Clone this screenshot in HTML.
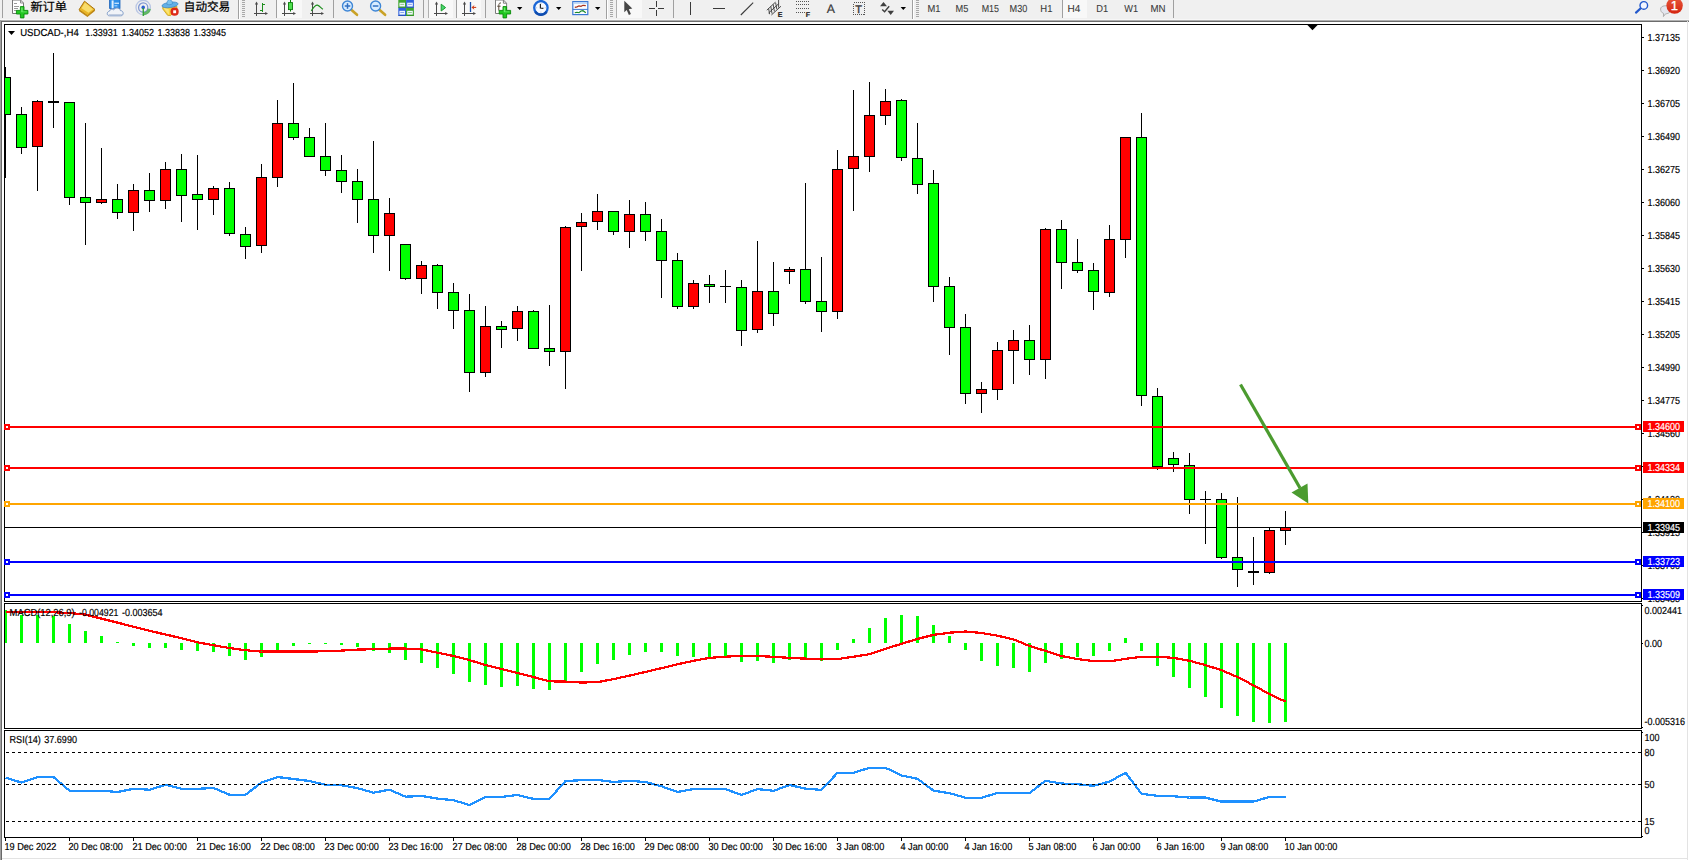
<!DOCTYPE html><html><head><meta charset="utf-8"><title>USDCAD-,H4</title><style>
html,body{margin:0;padding:0;background:#fff;}body{width:1689px;height:860px;overflow:hidden;position:relative;}
svg{position:absolute;left:0;top:0;display:block;}
text{font-family:"Liberation Sans","Noto Sans CJK SC",sans-serif;font-size:10.2px;text-rendering:geometricPrecision;fill:#000;stroke:#000;stroke-width:.18px;}
.cj{font-size:12px;stroke-width:.22px;}
.tf{fill:#3a3a3a;stroke:#3a3a3a;stroke-width:.08px;}
.w{fill:#fff;stroke:#fff;}
</style></head><body>
<svg width="1689" height="860" viewBox="0 0 1689 860">
<g shape-rendering="crispEdges">
<rect x="0" y="0" width="1689" height="860" fill="#fff" />
<rect x="0" y="0" width="1689" height="20" fill="#f0f0f0" />
<rect x="0" y="19" width="1689" height="1" fill="#f7f7f7" />
<rect x="0" y="20" width="1689" height="1" fill="#b0b0b0" />
<rect x="0" y="21" width="1689" height="1" fill="#6c6c6c" />
<rect x="0" y="20" width="1" height="840" fill="#a0a0a0" />
<rect x="1" y="21" width="1" height="839" fill="#696969" />
<rect x="1687" y="21" width="1" height="839" fill="#e3e3e3" />
<rect x="2" y="858" width="1686" height="1" fill="#e3e3e3" />
<rect x="4.5" y="24.5" width="1637" height="577" fill="none" stroke="#000" stroke-width="1"/>
<rect x="4.5" y="603.5" width="1637" height="125" fill="none" stroke="#000" stroke-width="1"/>
<rect x="4.5" y="730.5" width="1637" height="107" fill="none" stroke="#000" stroke-width="1"/>
</g>
<defs><clipPath id="cm"><rect x="5" y="25" width="1636" height="576"/></clipPath><clipPath id="c2"><rect x="5" y="604" width="1636" height="124"/></clipPath><clipPath id="c3"><rect x="5" y="731" width="1636" height="106"/></clipPath></defs>
<g shape-rendering="crispEdges" clip-path="url(#cm)">
<rect x="5" y="527" width="1636" height="1" fill="#000" />
<rect x="5" y="67" width="1" height="111" fill="#000" />
<rect x="0" y="77" width="11" height="38" fill="#000" />
<rect x="1" y="78" width="9" height="36" fill="#00ff00" />
<rect x="21" y="107" width="1" height="47" fill="#000" />
<rect x="16" y="114" width="11" height="34" fill="#000" />
<rect x="17" y="115" width="9" height="32" fill="#00ff00" />
<rect x="37" y="100" width="1" height="91" fill="#000" />
<rect x="32" y="101" width="11" height="46" fill="#000" />
<rect x="33" y="102" width="9" height="44" fill="#ff0000" />
<rect x="53" y="53" width="1" height="75" fill="#000" />
<rect x="48" y="101" width="11" height="2" fill="#000" />
<rect x="69" y="102" width="1" height="103" fill="#000" />
<rect x="64" y="102" width="11" height="96" fill="#000" />
<rect x="65" y="103" width="9" height="94" fill="#00ff00" />
<rect x="85" y="123" width="1" height="122" fill="#000" />
<rect x="80" y="197" width="11" height="6" fill="#000" />
<rect x="81" y="198" width="9" height="4" fill="#00ff00" />
<rect x="101" y="148" width="1" height="56" fill="#000" />
<rect x="96" y="199" width="11" height="4" fill="#000" />
<rect x="97" y="200" width="9" height="2" fill="#ff0000" />
<rect x="117" y="184" width="1" height="35" fill="#000" />
<rect x="112" y="199" width="11" height="14" fill="#000" />
<rect x="113" y="200" width="9" height="12" fill="#00ff00" />
<rect x="133" y="184" width="1" height="47" fill="#000" />
<rect x="128" y="190" width="11" height="23" fill="#000" />
<rect x="129" y="191" width="9" height="21" fill="#ff0000" />
<rect x="149" y="173" width="1" height="39" fill="#000" />
<rect x="144" y="190" width="11" height="11" fill="#000" />
<rect x="145" y="191" width="9" height="9" fill="#00ff00" />
<rect x="165" y="162" width="1" height="47" fill="#000" />
<rect x="160" y="169" width="11" height="32" fill="#000" />
<rect x="161" y="170" width="9" height="30" fill="#ff0000" />
<rect x="181" y="154" width="1" height="68" fill="#000" />
<rect x="176" y="169" width="11" height="27" fill="#000" />
<rect x="177" y="170" width="9" height="25" fill="#00ff00" />
<rect x="197" y="155" width="1" height="75" fill="#000" />
<rect x="192" y="194" width="11" height="6" fill="#000" />
<rect x="193" y="195" width="9" height="4" fill="#00ff00" />
<rect x="213" y="186" width="1" height="29" fill="#000" />
<rect x="208" y="188" width="11" height="12" fill="#000" />
<rect x="209" y="189" width="9" height="10" fill="#ff0000" />
<rect x="229" y="182" width="1" height="54" fill="#000" />
<rect x="224" y="188" width="11" height="46" fill="#000" />
<rect x="225" y="189" width="9" height="44" fill="#00ff00" />
<rect x="245" y="227" width="1" height="32" fill="#000" />
<rect x="240" y="234" width="11" height="13" fill="#000" />
<rect x="241" y="235" width="9" height="11" fill="#00ff00" />
<rect x="261" y="164" width="1" height="89" fill="#000" />
<rect x="256" y="177" width="11" height="69" fill="#000" />
<rect x="257" y="178" width="9" height="67" fill="#ff0000" />
<rect x="277" y="100" width="1" height="87" fill="#000" />
<rect x="272" y="123" width="11" height="55" fill="#000" />
<rect x="273" y="124" width="9" height="53" fill="#ff0000" />
<rect x="293" y="83" width="1" height="57" fill="#000" />
<rect x="288" y="123" width="11" height="15" fill="#000" />
<rect x="289" y="124" width="9" height="13" fill="#00ff00" />
<rect x="309" y="128" width="1" height="29" fill="#000" />
<rect x="304" y="137" width="11" height="20" fill="#000" />
<rect x="305" y="138" width="9" height="18" fill="#00ff00" />
<rect x="325" y="123" width="1" height="53" fill="#000" />
<rect x="320" y="156" width="11" height="15" fill="#000" />
<rect x="321" y="157" width="9" height="13" fill="#00ff00" />
<rect x="341" y="155" width="1" height="38" fill="#000" />
<rect x="336" y="170" width="11" height="12" fill="#000" />
<rect x="337" y="171" width="9" height="10" fill="#00ff00" />
<rect x="357" y="169" width="1" height="54" fill="#000" />
<rect x="352" y="181" width="11" height="19" fill="#000" />
<rect x="353" y="182" width="9" height="17" fill="#00ff00" />
<rect x="373" y="141" width="1" height="112" fill="#000" />
<rect x="368" y="199" width="11" height="37" fill="#000" />
<rect x="369" y="200" width="9" height="35" fill="#00ff00" />
<rect x="389" y="198" width="1" height="73" fill="#000" />
<rect x="384" y="213" width="11" height="23" fill="#000" />
<rect x="385" y="214" width="9" height="21" fill="#ff0000" />
<rect x="405" y="244" width="1" height="36" fill="#000" />
<rect x="400" y="244" width="11" height="35" fill="#000" />
<rect x="401" y="245" width="9" height="33" fill="#00ff00" />
<rect x="421" y="261" width="1" height="33" fill="#000" />
<rect x="416" y="265" width="11" height="14" fill="#000" />
<rect x="417" y="266" width="9" height="12" fill="#ff0000" />
<rect x="437" y="264" width="1" height="45" fill="#000" />
<rect x="432" y="265" width="11" height="28" fill="#000" />
<rect x="433" y="266" width="9" height="26" fill="#00ff00" />
<rect x="453" y="283" width="1" height="46" fill="#000" />
<rect x="448" y="292" width="11" height="19" fill="#000" />
<rect x="449" y="293" width="9" height="17" fill="#00ff00" />
<rect x="469" y="294" width="1" height="98" fill="#000" />
<rect x="464" y="310" width="11" height="63" fill="#000" />
<rect x="465" y="311" width="9" height="61" fill="#00ff00" />
<rect x="485" y="306" width="1" height="71" fill="#000" />
<rect x="480" y="326" width="11" height="47" fill="#000" />
<rect x="481" y="327" width="9" height="45" fill="#ff0000" />
<rect x="501" y="321" width="1" height="27" fill="#000" />
<rect x="496" y="326" width="11" height="4" fill="#000" />
<rect x="497" y="327" width="9" height="2" fill="#00ff00" />
<rect x="517" y="306" width="1" height="35" fill="#000" />
<rect x="512" y="311" width="11" height="18" fill="#000" />
<rect x="513" y="312" width="9" height="16" fill="#ff0000" />
<rect x="533" y="310" width="1" height="39" fill="#000" />
<rect x="528" y="311" width="11" height="38" fill="#000" />
<rect x="529" y="312" width="9" height="36" fill="#00ff00" />
<rect x="549" y="305" width="1" height="61" fill="#000" />
<rect x="544" y="348" width="11" height="4" fill="#000" />
<rect x="545" y="349" width="9" height="2" fill="#00ff00" />
<rect x="565" y="226" width="1" height="163" fill="#000" />
<rect x="560" y="227" width="11" height="125" fill="#000" />
<rect x="561" y="228" width="9" height="123" fill="#ff0000" />
<rect x="581" y="213" width="1" height="58" fill="#000" />
<rect x="576" y="222" width="11" height="5" fill="#000" />
<rect x="577" y="223" width="9" height="3" fill="#ff0000" />
<rect x="597" y="194" width="1" height="36" fill="#000" />
<rect x="592" y="211" width="11" height="11" fill="#000" />
<rect x="593" y="212" width="9" height="9" fill="#ff0000" />
<rect x="613" y="211" width="1" height="24" fill="#000" />
<rect x="608" y="211" width="11" height="21" fill="#000" />
<rect x="609" y="212" width="9" height="19" fill="#00ff00" />
<rect x="629" y="200" width="1" height="48" fill="#000" />
<rect x="624" y="214" width="11" height="18" fill="#000" />
<rect x="625" y="215" width="9" height="16" fill="#ff0000" />
<rect x="645" y="202" width="1" height="39" fill="#000" />
<rect x="640" y="214" width="11" height="18" fill="#000" />
<rect x="641" y="215" width="9" height="16" fill="#00ff00" />
<rect x="661" y="219" width="1" height="79" fill="#000" />
<rect x="656" y="231" width="11" height="30" fill="#000" />
<rect x="657" y="232" width="9" height="28" fill="#00ff00" />
<rect x="677" y="253" width="1" height="56" fill="#000" />
<rect x="672" y="260" width="11" height="47" fill="#000" />
<rect x="673" y="261" width="9" height="45" fill="#00ff00" />
<rect x="693" y="280" width="1" height="29" fill="#000" />
<rect x="688" y="283" width="11" height="24" fill="#000" />
<rect x="689" y="284" width="9" height="22" fill="#ff0000" />
<rect x="709" y="275" width="1" height="28" fill="#000" />
<rect x="704" y="284" width="11" height="3" fill="#000" />
<rect x="705" y="285" width="9" height="1" fill="#00ff00" />
<rect x="725" y="270" width="1" height="33" fill="#000" />
<rect x="720" y="286" width="11" height="1" fill="#000" />
<rect x="741" y="280" width="1" height="66" fill="#000" />
<rect x="736" y="287" width="11" height="44" fill="#000" />
<rect x="737" y="288" width="9" height="42" fill="#00ff00" />
<rect x="757" y="241" width="1" height="92" fill="#000" />
<rect x="752" y="291" width="11" height="39" fill="#000" />
<rect x="753" y="292" width="9" height="37" fill="#ff0000" />
<rect x="773" y="262" width="1" height="64" fill="#000" />
<rect x="768" y="291" width="11" height="23" fill="#000" />
<rect x="769" y="292" width="9" height="21" fill="#00ff00" />
<rect x="789" y="267" width="1" height="17" fill="#000" />
<rect x="784" y="269" width="11" height="3" fill="#000" />
<rect x="785" y="270" width="9" height="1" fill="#ff0000" />
<rect x="805" y="183" width="1" height="121" fill="#000" />
<rect x="800" y="269" width="11" height="33" fill="#000" />
<rect x="801" y="270" width="9" height="31" fill="#00ff00" />
<rect x="821" y="257" width="1" height="75" fill="#000" />
<rect x="816" y="301" width="11" height="11" fill="#000" />
<rect x="817" y="302" width="9" height="9" fill="#00ff00" />
<rect x="837" y="150" width="1" height="169" fill="#000" />
<rect x="832" y="169" width="11" height="143" fill="#000" />
<rect x="833" y="170" width="9" height="141" fill="#ff0000" />
<rect x="853" y="90" width="1" height="121" fill="#000" />
<rect x="848" y="156" width="11" height="13" fill="#000" />
<rect x="849" y="157" width="9" height="11" fill="#ff0000" />
<rect x="869" y="82" width="1" height="90" fill="#000" />
<rect x="864" y="115" width="11" height="42" fill="#000" />
<rect x="865" y="116" width="9" height="40" fill="#ff0000" />
<rect x="885" y="89" width="1" height="36" fill="#000" />
<rect x="880" y="101" width="11" height="15" fill="#000" />
<rect x="881" y="102" width="9" height="13" fill="#ff0000" />
<rect x="901" y="99" width="1" height="62" fill="#000" />
<rect x="896" y="100" width="11" height="58" fill="#000" />
<rect x="897" y="101" width="9" height="56" fill="#00ff00" />
<rect x="917" y="123" width="1" height="71" fill="#000" />
<rect x="912" y="158" width="11" height="27" fill="#000" />
<rect x="913" y="159" width="9" height="25" fill="#00ff00" />
<rect x="933" y="170" width="1" height="132" fill="#000" />
<rect x="928" y="183" width="11" height="104" fill="#000" />
<rect x="929" y="184" width="9" height="102" fill="#00ff00" />
<rect x="949" y="277" width="1" height="78" fill="#000" />
<rect x="944" y="286" width="11" height="42" fill="#000" />
<rect x="945" y="287" width="9" height="40" fill="#00ff00" />
<rect x="965" y="314" width="1" height="90" fill="#000" />
<rect x="960" y="327" width="11" height="67" fill="#000" />
<rect x="961" y="328" width="9" height="65" fill="#00ff00" />
<rect x="981" y="382" width="1" height="31" fill="#000" />
<rect x="976" y="389" width="11" height="5" fill="#000" />
<rect x="977" y="390" width="9" height="3" fill="#ff0000" />
<rect x="997" y="342" width="1" height="58" fill="#000" />
<rect x="992" y="350" width="11" height="40" fill="#000" />
<rect x="993" y="351" width="9" height="38" fill="#ff0000" />
<rect x="1013" y="330" width="1" height="54" fill="#000" />
<rect x="1008" y="340" width="11" height="11" fill="#000" />
<rect x="1009" y="341" width="9" height="9" fill="#ff0000" />
<rect x="1029" y="325" width="1" height="50" fill="#000" />
<rect x="1024" y="340" width="11" height="20" fill="#000" />
<rect x="1025" y="341" width="9" height="18" fill="#00ff00" />
<rect x="1045" y="228" width="1" height="151" fill="#000" />
<rect x="1040" y="229" width="11" height="131" fill="#000" />
<rect x="1041" y="230" width="9" height="129" fill="#ff0000" />
<rect x="1061" y="220" width="1" height="69" fill="#000" />
<rect x="1056" y="229" width="11" height="34" fill="#000" />
<rect x="1057" y="230" width="9" height="32" fill="#00ff00" />
<rect x="1077" y="239" width="1" height="34" fill="#000" />
<rect x="1072" y="262" width="11" height="9" fill="#000" />
<rect x="1073" y="263" width="9" height="7" fill="#00ff00" />
<rect x="1093" y="263" width="1" height="47" fill="#000" />
<rect x="1088" y="270" width="11" height="22" fill="#000" />
<rect x="1089" y="271" width="9" height="20" fill="#00ff00" />
<rect x="1109" y="225" width="1" height="72" fill="#000" />
<rect x="1104" y="239" width="11" height="54" fill="#000" />
<rect x="1105" y="240" width="9" height="52" fill="#ff0000" />
<rect x="1125" y="137" width="1" height="121" fill="#000" />
<rect x="1120" y="137" width="11" height="103" fill="#000" />
<rect x="1121" y="138" width="9" height="101" fill="#ff0000" />
<rect x="1141" y="113" width="1" height="293" fill="#000" />
<rect x="1136" y="137" width="11" height="259" fill="#000" />
<rect x="1137" y="138" width="9" height="257" fill="#00ff00" />
<rect x="1157" y="388" width="1" height="82" fill="#000" />
<rect x="1152" y="396" width="11" height="71" fill="#000" />
<rect x="1153" y="397" width="9" height="69" fill="#00ff00" />
<rect x="1173" y="452" width="1" height="20" fill="#000" />
<rect x="1168" y="458" width="11" height="7" fill="#000" />
<rect x="1169" y="459" width="9" height="5" fill="#00ff00" />
<rect x="1189" y="453" width="1" height="61" fill="#000" />
<rect x="1184" y="465" width="11" height="35" fill="#000" />
<rect x="1185" y="466" width="9" height="33" fill="#00ff00" />
<rect x="1205" y="491" width="1" height="53" fill="#000" />
<rect x="1200" y="499" width="11" height="1" fill="#000" />
<rect x="1221" y="493" width="1" height="66" fill="#000" />
<rect x="1216" y="499" width="11" height="59" fill="#000" />
<rect x="1217" y="500" width="9" height="57" fill="#00ff00" />
<rect x="1237" y="497" width="1" height="90" fill="#000" />
<rect x="1232" y="557" width="11" height="13" fill="#000" />
<rect x="1233" y="558" width="9" height="11" fill="#00ff00" />
<rect x="1253" y="537" width="1" height="48" fill="#000" />
<rect x="1248" y="571" width="11" height="2" fill="#000" />
<rect x="1269" y="527" width="1" height="47" fill="#000" />
<rect x="1264" y="530" width="11" height="43" fill="#000" />
<rect x="1265" y="531" width="9" height="41" fill="#ff0000" />
<rect x="1285" y="511" width="1" height="34" fill="#000" />
<rect x="1280" y="527" width="11" height="4" fill="#000" />
<rect x="1281" y="528" width="9" height="2" fill="#ff0000" />
</g><g shape-rendering="crispEdges">
<rect x="5" y="426" width="1636" height="2" fill="#ff0000" />
<rect x="4" y="424" width="6" height="6" fill="#ff0000" />
<rect x="6" y="426" width="2" height="2" fill="#fff" />
<rect x="1635" y="424" width="6" height="6" fill="#ff0000" />
<rect x="1637" y="426" width="2" height="2" fill="#fff" />
<rect x="5" y="467" width="1636" height="2" fill="#ff0000" />
<rect x="4" y="465" width="6" height="6" fill="#ff0000" />
<rect x="6" y="467" width="2" height="2" fill="#fff" />
<rect x="1635" y="465" width="6" height="6" fill="#ff0000" />
<rect x="1637" y="467" width="2" height="2" fill="#fff" />
<rect x="5" y="503" width="1636" height="2" fill="#ffa500" />
<rect x="4" y="501" width="6" height="6" fill="#ffa500" />
<rect x="6" y="503" width="2" height="2" fill="#fff" />
<rect x="1635" y="501" width="6" height="6" fill="#ffa500" />
<rect x="1637" y="503" width="2" height="2" fill="#fff" />
<rect x="5" y="561" width="1636" height="2" fill="#0000ff" />
<rect x="4" y="559" width="6" height="6" fill="#0000ff" />
<rect x="6" y="561" width="2" height="2" fill="#fff" />
<rect x="1635" y="559" width="6" height="6" fill="#0000ff" />
<rect x="1637" y="561" width="2" height="2" fill="#fff" />
<rect x="5" y="594" width="1636" height="2" fill="#0000ff" />
<rect x="4" y="592" width="6" height="6" fill="#0000ff" />
<rect x="6" y="594" width="2" height="2" fill="#fff" />
<rect x="1635" y="592" width="6" height="6" fill="#0000ff" />
<rect x="1637" y="594" width="2" height="2" fill="#fff" />
</g>
<g shape-rendering="geometricPrecision"><line x1="1240.5" y1="384.5" x2="1300" y2="488" stroke="#4b9b2f" stroke-width="3.2"/><polygon points="1308.3,503.5 1291.5,492.5 1307.5,483.5" fill="#4b9b2f"/></g>
<g shape-rendering="crispEdges">
<rect x="1642" y="37" width="2" height="1" fill="#000" />
<rect x="1642" y="70" width="2" height="1" fill="#000" />
<rect x="1642" y="103" width="2" height="1" fill="#000" />
<rect x="1642" y="136" width="2" height="1" fill="#000" />
<rect x="1642" y="169" width="2" height="1" fill="#000" />
<rect x="1642" y="202" width="2" height="1" fill="#000" />
<rect x="1642" y="235" width="2" height="1" fill="#000" />
<rect x="1642" y="268" width="2" height="1" fill="#000" />
<rect x="1642" y="301" width="2" height="1" fill="#000" />
<rect x="1642" y="334" width="2" height="1" fill="#000" />
<rect x="1642" y="367" width="2" height="1" fill="#000" />
<rect x="1642" y="400" width="2" height="1" fill="#000" />
<rect x="1642" y="433" width="2" height="1" fill="#000" />
<rect x="1642" y="466" width="2" height="1" fill="#000" />
<rect x="1642" y="499" width="2" height="1" fill="#000" />
<rect x="1642" y="532" width="2" height="1" fill="#000" />
<rect x="1642" y="565" width="2" height="1" fill="#000" />
<rect x="1642" y="598" width="2" height="1" fill="#000" />
</g>
<text transform="translate(1647.5 40.6) scale(0.8824 1)">1.37135</text>
<text transform="translate(1647.5 73.6) scale(0.8824 1)">1.36920</text>
<text transform="translate(1647.5 106.6) scale(0.8824 1)">1.36705</text>
<text transform="translate(1647.5 139.6) scale(0.8824 1)">1.36490</text>
<text transform="translate(1647.5 172.6) scale(0.8824 1)">1.36275</text>
<text transform="translate(1647.5 205.6) scale(0.8824 1)">1.36060</text>
<text transform="translate(1647.5 238.6) scale(0.8824 1)">1.35845</text>
<text transform="translate(1647.5 271.6) scale(0.8824 1)">1.35630</text>
<text transform="translate(1647.5 304.6) scale(0.8824 1)">1.35415</text>
<text transform="translate(1647.5 337.6) scale(0.8824 1)">1.35205</text>
<text transform="translate(1647.5 370.6) scale(0.8824 1)">1.34990</text>
<text transform="translate(1647.5 403.6) scale(0.8824 1)">1.34775</text>
<text transform="translate(1647.5 436.6) scale(0.8824 1)">1.34560</text>
<text transform="translate(1647.5 469.6) scale(0.8824 1)">1.34345</text>
<text transform="translate(1647.5 502.6) scale(0.8824 1)">1.34130</text>
<text transform="translate(1647.5 535.6) scale(0.8824 1)">1.33915</text>
<text transform="translate(1647.5 568.6) scale(0.8824 1)">1.33700</text>
<text transform="translate(1647.5 601.6) scale(0.8824 1)">1.33485</text>
<g shape-rendering="crispEdges">
<rect x="1643" y="421" width="41" height="11" fill="#ff0000" />
<rect x="1643" y="462" width="41" height="11" fill="#ff0000" />
<rect x="1643" y="498" width="41" height="11" fill="#ffa500" />
<rect x="1643" y="556" width="41" height="11" fill="#0000ff" />
<rect x="1643" y="589" width="41" height="11" fill="#0000ff" />
<rect x="1643" y="522" width="41" height="11" fill="#000" />
</g>
<text class="w" transform="translate(1647.5 429.6) scale(0.8824 1)">1.34600</text>
<text class="w" transform="translate(1647.5 470.6) scale(0.8824 1)">1.34334</text>
<text class="w" transform="translate(1647.5 506.6) scale(0.8824 1)">1.34100</text>
<text class="w" transform="translate(1647.5 564.6) scale(0.8824 1)">1.33723</text>
<text class="w" transform="translate(1647.5 597.6) scale(0.8824 1)">1.33509</text>
<text class="w" transform="translate(1647.5 530.6) scale(0.8824 1)">1.33945</text>
<polygon points="8,31 15,31 11.5,35" fill="#000"/>
<text transform="translate(20.2 36) scale(0.8824 1)" textLength="66.30" lengthAdjust="spacingAndGlyphs">USDCAD-,H4</text>
<text transform="translate(85.3 36) scale(0.8824 1)">1.33931</text>
<text transform="translate(121.4 36) scale(0.8824 1)">1.34052</text>
<text transform="translate(157.5 36) scale(0.8824 1)">1.33838</text>
<text transform="translate(193.6 36) scale(0.8824 1)">1.33945</text>
<g shape-rendering="crispEdges" clip-path="url(#c2)">
<rect x="4" y="610" width="3" height="33" fill="#00ff00" />
<rect x="20" y="615" width="3" height="28" fill="#00ff00" />
<rect x="36" y="615" width="3" height="28" fill="#00ff00" />
<rect x="52" y="616" width="3" height="27" fill="#00ff00" />
<rect x="68" y="624" width="3" height="19" fill="#00ff00" />
<rect x="84" y="631" width="3" height="12" fill="#00ff00" />
<rect x="100" y="636" width="3" height="7" fill="#00ff00" />
<rect x="116" y="642" width="3" height="1" fill="#00ff00" />
<rect x="132" y="643" width="3" height="3" fill="#00ff00" />
<rect x="148" y="643" width="3" height="5" fill="#00ff00" />
<rect x="164" y="643" width="3" height="5" fill="#00ff00" />
<rect x="180" y="643" width="3" height="7" fill="#00ff00" />
<rect x="196" y="643" width="3" height="8" fill="#00ff00" />
<rect x="212" y="643" width="3" height="9" fill="#00ff00" />
<rect x="228" y="643" width="3" height="13" fill="#00ff00" />
<rect x="244" y="643" width="3" height="17" fill="#00ff00" />
<rect x="260" y="643" width="3" height="14" fill="#00ff00" />
<rect x="276" y="643" width="3" height="7" fill="#00ff00" />
<rect x="292" y="643" width="3" height="3" fill="#00ff00" />
<rect x="308" y="643" width="3" height="1" fill="#00ff00" />
<rect x="324" y="643" width="3" height="1" fill="#00ff00" />
<rect x="340" y="643" width="3" height="2" fill="#00ff00" />
<rect x="356" y="643" width="3" height="4" fill="#00ff00" />
<rect x="372" y="643" width="3" height="8" fill="#00ff00" />
<rect x="388" y="643" width="3" height="10" fill="#00ff00" />
<rect x="404" y="643" width="3" height="17" fill="#00ff00" />
<rect x="420" y="643" width="3" height="20" fill="#00ff00" />
<rect x="436" y="643" width="3" height="25" fill="#00ff00" />
<rect x="452" y="643" width="3" height="31" fill="#00ff00" />
<rect x="468" y="643" width="3" height="39" fill="#00ff00" />
<rect x="484" y="643" width="3" height="42" fill="#00ff00" />
<rect x="500" y="643" width="3" height="44" fill="#00ff00" />
<rect x="516" y="643" width="3" height="43" fill="#00ff00" />
<rect x="532" y="643" width="3" height="46" fill="#00ff00" />
<rect x="548" y="643" width="3" height="47" fill="#00ff00" />
<rect x="564" y="643" width="3" height="38" fill="#00ff00" />
<rect x="580" y="643" width="3" height="29" fill="#00ff00" />
<rect x="596" y="643" width="3" height="21" fill="#00ff00" />
<rect x="612" y="643" width="3" height="17" fill="#00ff00" />
<rect x="628" y="643" width="3" height="12" fill="#00ff00" />
<rect x="644" y="643" width="3" height="9" fill="#00ff00" />
<rect x="660" y="643" width="3" height="9" fill="#00ff00" />
<rect x="676" y="643" width="3" height="13" fill="#00ff00" />
<rect x="692" y="643" width="3" height="14" fill="#00ff00" />
<rect x="708" y="643" width="3" height="14" fill="#00ff00" />
<rect x="724" y="643" width="3" height="14" fill="#00ff00" />
<rect x="740" y="643" width="3" height="19" fill="#00ff00" />
<rect x="756" y="643" width="3" height="18" fill="#00ff00" />
<rect x="772" y="643" width="3" height="20" fill="#00ff00" />
<rect x="788" y="643" width="3" height="17" fill="#00ff00" />
<rect x="804" y="643" width="3" height="17" fill="#00ff00" />
<rect x="820" y="643" width="3" height="18" fill="#00ff00" />
<rect x="836" y="643" width="3" height="7" fill="#00ff00" />
<rect x="852" y="639" width="3" height="4" fill="#00ff00" />
<rect x="868" y="628" width="3" height="15" fill="#00ff00" />
<rect x="884" y="618" width="3" height="25" fill="#00ff00" />
<rect x="900" y="615" width="3" height="28" fill="#00ff00" />
<rect x="916" y="616" width="3" height="27" fill="#00ff00" />
<rect x="932" y="625" width="3" height="18" fill="#00ff00" />
<rect x="948" y="636" width="3" height="7" fill="#00ff00" />
<rect x="964" y="643" width="3" height="7" fill="#00ff00" />
<rect x="980" y="643" width="3" height="18" fill="#00ff00" />
<rect x="996" y="643" width="3" height="23" fill="#00ff00" />
<rect x="1012" y="643" width="3" height="25" fill="#00ff00" />
<rect x="1028" y="643" width="3" height="29" fill="#00ff00" />
<rect x="1044" y="643" width="3" height="20" fill="#00ff00" />
<rect x="1060" y="643" width="3" height="16" fill="#00ff00" />
<rect x="1076" y="643" width="3" height="14" fill="#00ff00" />
<rect x="1092" y="643" width="3" height="13" fill="#00ff00" />
<rect x="1108" y="643" width="3" height="8" fill="#00ff00" />
<rect x="1124" y="638" width="3" height="5" fill="#00ff00" />
<rect x="1140" y="643" width="3" height="8" fill="#00ff00" />
<rect x="1156" y="643" width="3" height="23" fill="#00ff00" />
<rect x="1172" y="643" width="3" height="34" fill="#00ff00" />
<rect x="1188" y="643" width="3" height="45" fill="#00ff00" />
<rect x="1204" y="643" width="3" height="54" fill="#00ff00" />
<rect x="1220" y="643" width="3" height="65" fill="#00ff00" />
<rect x="1236" y="643" width="3" height="73" fill="#00ff00" />
<rect x="1252" y="643" width="3" height="79" fill="#00ff00" />
<rect x="1268" y="643" width="3" height="80" fill="#00ff00" />
<rect x="1284" y="643" width="3" height="79" fill="#00ff00" />
</g>
<polyline clip-path="url(#c2)" points="5.5,612.0 21.5,612.0 37.5,612.0 53.5,612.2 69.5,613.0 85.5,614.6 101.5,618.6 117.5,622.6 133.5,626.8 149.5,630.8 165.5,634.5 181.5,638.2 197.5,642.3 213.5,645.3 229.5,648.0 245.5,650.2 261.5,651.6 277.5,651.6 293.5,651.6 309.5,651.6 325.5,651.2 341.5,650.6 357.5,649.6 373.5,649.2 389.5,648.6 405.5,648.6 421.5,649.4 437.5,652.7 453.5,656.0 469.5,660.1 485.5,665.0 501.5,669.0 517.5,673.0 533.5,677.1 549.5,681.3 565.5,681.6 581.5,682.5 597.5,682.2 613.5,679.1 629.5,675.6 645.5,671.9 661.5,668.2 677.5,664.3 693.5,660.8 709.5,657.9 725.5,656.7 741.5,655.7 757.5,656.0 773.5,656.8 789.5,657.9 805.5,658.6 821.5,659.4 837.5,659.1 853.5,656.7 869.5,654.2 885.5,648.7 901.5,643.8 917.5,638.9 933.5,634.9 949.5,632.7 965.5,631.5 981.5,633.0 997.5,635.7 1013.5,639.4 1029.5,646.0 1045.5,650.9 1061.5,656.0 1077.5,659.1 1093.5,661.1 1109.5,661.3 1125.5,658.9 1141.5,656.7 1157.5,656.7 1173.5,657.9 1189.5,660.8 1205.5,665.1 1221.5,670.2 1237.5,677.1 1253.5,685.3 1269.5,694.2 1285.5,701.6" fill="none" stroke="#ff0000" stroke-width="2.25" stroke-linejoin="round" shape-rendering="crispEdges"/>
<text transform="translate(9.6 616) scale(0.8824 1)" textLength="73.67" lengthAdjust="spacingAndGlyphs">MACD(12,26,9)</text>
<text transform="translate(79 616) scale(0.8824 1)" textLength="44.65" lengthAdjust="spacingAndGlyphs">-0.004921</text>
<text transform="translate(122 616) scale(0.8824 1)" textLength="46.01" lengthAdjust="spacingAndGlyphs">-0.003654</text>
<g shape-rendering="crispEdges">
<rect x="1642" y="605" width="1" height="1" fill="#000" />
<rect x="1642" y="643" width="1" height="1" fill="#000" />
<rect x="1642" y="727" width="1" height="1" fill="#000" />
</g>
<text transform="translate(1644.6 614) scale(0.8824 1)">0.002441</text>
<text transform="translate(1644.6 647) scale(0.8824 1)">0.00</text>
<text transform="translate(1644.6 725) scale(0.8824 1)">-0.005316</text>
<polyline clip-path="url(#c3)" points="5.5,777.6 21.5,782.6 37.5,777.1 53.5,777.1 69.5,790.7 85.5,790.7 101.5,790.7 117.5,792 133.5,788.8 149.5,789.7 165.5,784.8 181.5,788.8 197.5,788.8 213.5,788 229.5,794.7 245.5,794.7 261.5,782.6 277.5,777 293.5,779 309.5,781 325.5,784.8 341.5,785.2 357.5,788.2 373.5,792.7 389.5,789.7 405.5,796.7 421.5,796 437.5,798.6 453.5,800.2 469.5,805 485.5,796.9 501.5,796.9 517.5,795 533.5,798.9 549.5,798.9 565.5,781 581.5,780.2 597.5,780 613.5,781.9 629.5,780.9 645.5,782 661.5,786.3 677.5,791.9 693.5,789.1 709.5,789.1 725.5,789.1 741.5,795 757.5,789.1 773.5,790.8 789.5,785 805.5,788.6 821.5,789.9 837.5,772.8 853.5,772.8 869.5,767.8 885.5,767.8 901.5,775.5 917.5,778.8 933.5,790.6 949.5,793.2 965.5,797.7 981.5,797.7 997.5,793 1013.5,793 1029.5,793 1045.5,780.8 1061.5,783.5 1077.5,784.2 1093.5,785.8 1109.5,781.6 1125.5,772.7 1141.5,793.8 1157.5,795.8 1173.5,796.3 1189.5,797.6 1205.5,797.6 1221.5,801.6 1237.5,801.6 1253.5,801.6 1269.5,796.9 1285.5,796.9" fill="none" stroke="#1e90ff" stroke-width="2.25" stroke-linejoin="round" shape-rendering="crispEdges"/>
<g shape-rendering="crispEdges">
<line x1="6" y1="752.5" x2="1641" y2="752.5" stroke="#000" stroke-width="1" stroke-dasharray="3 3"/>
<line x1="6" y1="784.5" x2="1641" y2="784.5" stroke="#000" stroke-width="1" stroke-dasharray="3 3"/>
<line x1="6" y1="821.5" x2="1641" y2="821.5" stroke="#000" stroke-width="1" stroke-dasharray="3 3"/>
<rect x="1642" y="732" width="1" height="1" fill="#000" />
<rect x="1642" y="836" width="1" height="1" fill="#000" />
</g>
<text transform="translate(9.5 743) scale(0.8824 1)" textLength="35.59" lengthAdjust="spacingAndGlyphs">RSI(14)</text>
<text transform="translate(44.2 743) scale(0.8824 1)" textLength="37.17" lengthAdjust="spacingAndGlyphs">37.6990</text>
<text transform="translate(1644.4 741) scale(0.8824 1)">100</text>
<text transform="translate(1644.4 756) scale(0.8824 1)">80</text>
<text transform="translate(1644.4 788) scale(0.8824 1)">50</text>
<text transform="translate(1644.4 825) scale(0.8824 1)">15</text>
<text transform="translate(1644.4 834) scale(0.8824 1)">0</text>
<g shape-rendering="crispEdges">
<rect x="5" y="838" width="1" height="3" fill="#000" />
<rect x="69" y="838" width="1" height="3" fill="#000" />
<rect x="133" y="838" width="1" height="3" fill="#000" />
<rect x="197" y="838" width="1" height="3" fill="#000" />
<rect x="261" y="838" width="1" height="3" fill="#000" />
<rect x="325" y="838" width="1" height="3" fill="#000" />
<rect x="389" y="838" width="1" height="3" fill="#000" />
<rect x="453" y="838" width="1" height="3" fill="#000" />
<rect x="517" y="838" width="1" height="3" fill="#000" />
<rect x="581" y="838" width="1" height="3" fill="#000" />
<rect x="645" y="838" width="1" height="3" fill="#000" />
<rect x="709" y="838" width="1" height="3" fill="#000" />
<rect x="773" y="838" width="1" height="3" fill="#000" />
<rect x="837" y="838" width="1" height="3" fill="#000" />
<rect x="901" y="838" width="1" height="3" fill="#000" />
<rect x="965" y="838" width="1" height="3" fill="#000" />
<rect x="1029" y="838" width="1" height="3" fill="#000" />
<rect x="1093" y="838" width="1" height="3" fill="#000" />
<rect x="1157" y="838" width="1" height="3" fill="#000" />
<rect x="1221" y="838" width="1" height="3" fill="#000" />
<rect x="1285" y="838" width="1" height="3" fill="#000" />
</g>
<text transform="translate(4.4 850) scale(0.9000 1)">19 Dec 2022</text>
<text transform="translate(68.4 850) scale(0.9000 1)">20 Dec 08:00</text>
<text transform="translate(132.4 850) scale(0.9000 1)">21 Dec 00:00</text>
<text transform="translate(196.4 850) scale(0.9000 1)">21 Dec 16:00</text>
<text transform="translate(260.4 850) scale(0.9000 1)">22 Dec 08:00</text>
<text transform="translate(324.4 850) scale(0.9000 1)">23 Dec 00:00</text>
<text transform="translate(388.4 850) scale(0.9000 1)">23 Dec 16:00</text>
<text transform="translate(452.4 850) scale(0.9000 1)">27 Dec 08:00</text>
<text transform="translate(516.4 850) scale(0.9000 1)">28 Dec 00:00</text>
<text transform="translate(580.4 850) scale(0.9000 1)">28 Dec 16:00</text>
<text transform="translate(644.4 850) scale(0.9000 1)">29 Dec 08:00</text>
<text transform="translate(708.4 850) scale(0.9000 1)">30 Dec 00:00</text>
<text transform="translate(772.4 850) scale(0.9000 1)">30 Dec 16:00</text>
<text transform="translate(836.4 850) scale(0.9000 1)">3 Jan 08:00</text>
<text transform="translate(900.4 850) scale(0.9000 1)">4 Jan 00:00</text>
<text transform="translate(964.4 850) scale(0.9000 1)">4 Jan 16:00</text>
<text transform="translate(1028.4 850) scale(0.9000 1)">5 Jan 08:00</text>
<text transform="translate(1092.4 850) scale(0.9000 1)">6 Jan 00:00</text>
<text transform="translate(1156.4 850) scale(0.9000 1)">6 Jan 16:00</text>
<text transform="translate(1220.4 850) scale(0.9000 1)">9 Jan 08:00</text>
<text transform="translate(1284.4 850) scale(0.9000 1)">10 Jan 00:00</text>
<polygon points="1307.4,25 1317.6,25 1312.5,30.2" fill="#000"/>
<defs><clipPath id="ct"><rect x="0" y="0" width="1689" height="20"/></clipPath></defs><g clip-path="url(#ct)">
<rect x="2" y="0" width="1" height="18" fill="#a0a0a0" shape-rendering="crispEdges"/>
<path d="M12.5,0 H20.5 L23.5,3 V13.5 H12.5 Z" fill="#fff" stroke="#777" stroke-width="1"/>
<path d="M20.5,0 V3 H23.5" fill="none" stroke="#8c8c8c" stroke-width="1"/>
<g stroke="#9a9a9a" stroke-width="1" shape-rendering="crispEdges"><line x1="14" y1="3.5" x2="17" y2="3.5"/><line x1="14" y1="6.5" x2="19" y2="6.5"/><line x1="14" y1="8.5" x2="18" y2="8.5"/><line x1="14" y1="10.5" x2="17" y2="10.5"/></g>
<path d="M20.4,6.6 H24 V10.4 H27.9 V14 H24 V17.9 H20.4 V14 H16.4 V10.4 H20.4 Z" fill="#22c822" stroke="#0a8a0a" stroke-width="0.9"/>
<path d="M21.2,7.6 H22.6 V11.4 H26.8 V12.2 H21.2 Z" fill="#8af58a" opacity="0.7"/>
<text class="cj" x="30.4" y="11" textLength="36.6" lengthAdjust="spacingAndGlyphs">新订单</text>
<path d="M84.5,1.2 L95,9.5 L87.5,15.8 L79,9.8 Z" fill="#e9b526" stroke="#a87410" stroke-width="1"/>
<path d="M85,2.6 L93,9.2 L88.5,12.8 L81.5,8.2 Z" fill="#f8dc6a"/>
<path d="M79.2,10.5 L87.4,16.2 L94.8,10.2" fill="none" stroke="#c08a18" stroke-width="1.2"/>
<rect x="109.6" y="-0.5" width="10.4" height="9" fill="#2f8fe8" stroke="#1b62b8" stroke-width="0.8"/>
<rect x="111.6" y="0.4" width="2" height="8" fill="#dff0ff"/><rect x="114.4" y="2.6" width="4.6" height="1.4" fill="#bfe0ff"/><rect x="114.4" y="5.2" width="3" height="1.2" fill="#9fd0ff"/>
<path d="M109.5,15.8 C106.4,15.8 106.6,11.6 109.4,11.2 C109.8,9 112.6,8.8 113.6,10 C114.6,7.2 119.8,7.2 120.4,10.6 C123.8,10.4 124.2,15.8 120.8,15.8 Z" fill="#f0f3f8" stroke="#7f9cc8" stroke-width="1"/>
<path d="M108.6,14.6 H122" stroke="#c2cde0" stroke-width="1.2"/>
<g fill="none"><circle cx="143.2" cy="7.5" r="7.2" stroke="#b9c6e4" stroke-width="1.3"/><circle cx="143.2" cy="7.5" r="4.6" stroke="#7f97d2" stroke-width="1.3"/><path d="M143.2,15.4 A7.9,7.9 0 0 0 150.9,9 L147.8,8.4 A4.7,4.7 0 0 1 143.2,12.2 Z" fill="#4cb04c" stroke="none" opacity="0.85"/></g>
<circle cx="143.2" cy="7.4" r="1.8" fill="#2b5fd0"/><rect x="142.6" y="8" width="1.3" height="8" fill="#2ea02e"/>
<path d="M162.8,7 L176.8,6.2 L176.8,8.4 L170.6,15.6 L167.6,15.3 L162.8,9 Z" fill="#f5d33c" stroke="#c89a18" stroke-width="0.8" stroke-linejoin="round"/>
<path d="M163.2,7.4 L168.6,9 L169,15 Z" fill="#fbe98a" opacity="0.8"/>
<ellipse cx="170" cy="4.9" rx="8.1" ry="2.7" transform="rotate(-8 170 4.9)" fill="#62b0e6" stroke="#3b86c4" stroke-width="0.7"/>
<path d="M166.9,4.2 C166.9,1.5 167.6,0 169.6,-0.5 C171.6,0 172.4,1.5 172.6,3.6 C171,4.8 168.6,5 166.9,4.2 Z" fill="#7cc2ee" stroke="#3b86c4" stroke-width="0.6"/>
<circle cx="174.6" cy="11.7" r="4.1" fill="#de2a18"/><rect x="173.2" y="10.3" width="2.9" height="2.9" fill="#fff"/>
<text class="cj" x="183.8" y="11" textLength="46.4" lengthAdjust="spacingAndGlyphs">自动交易</text>
<rect x="238" y="0" width="1" height="19" fill="#a0a0a0" shape-rendering="crispEdges"/>
<rect x="239" y="0" width="1" height="19" fill="#ffffff" shape-rendering="crispEdges"/>
<rect x="242" y="0" width="3" height="1" fill="#a8a8a8" shape-rendering="crispEdges"/>
<rect x="242" y="2" width="3" height="1" fill="#a8a8a8" shape-rendering="crispEdges"/>
<rect x="242" y="4" width="3" height="1" fill="#a8a8a8" shape-rendering="crispEdges"/>
<rect x="242" y="6" width="3" height="1" fill="#a8a8a8" shape-rendering="crispEdges"/>
<rect x="242" y="8" width="3" height="1" fill="#a8a8a8" shape-rendering="crispEdges"/>
<rect x="242" y="10" width="3" height="1" fill="#a8a8a8" shape-rendering="crispEdges"/>
<rect x="242" y="12" width="3" height="1" fill="#a8a8a8" shape-rendering="crispEdges"/>
<rect x="242" y="14" width="3" height="1" fill="#a8a8a8" shape-rendering="crispEdges"/>
<rect x="242" y="16" width="3" height="1" fill="#a8a8a8" shape-rendering="crispEdges"/>
<g stroke="#4a4a4a" stroke-width="1" fill="none" shape-rendering="crispEdges"><line x1="256.5" y1="3" x2="256.5" y2="16"/><line x1="254" y1="13.5" x2="266" y2="13.5"/></g>
<polygon points="256.5,1.6 254.9,4.4 258.1,4.4" fill="#4a4a4a"/><polygon points="268,13.5 265.2,11.9 265.2,15.1" fill="#4a4a4a"/>
<g fill="#1e8e1e" shape-rendering="crispEdges"><rect x="262" y="3" width="1" height="9"/><rect x="263" y="4" width="2" height="1"/><rect x="260" y="10" width="2" height="1"/></g>
<rect x="276" y="0" width="1" height="18" fill="#a0a0a0" shape-rendering="crispEdges"/>
<rect x="277" y="0" width="25" height="18" fill="#f8f8f8" shape-rendering="crispEdges"/>
<g stroke="#4a4a4a" stroke-width="1" fill="none" shape-rendering="crispEdges"><line x1="284.5" y1="3" x2="284.5" y2="16"/><line x1="282" y1="13.5" x2="294" y2="13.5"/></g>
<polygon points="284.5,1.6 282.9,4.4 286.1,4.4" fill="#4a4a4a"/><polygon points="296,13.5 293.2,11.9 293.2,15.1" fill="#4a4a4a"/>
<line x1="290.5" y1="0" x2="290.5" y2="11.5" stroke="#0a7a0a" stroke-width="1"/><rect x="288.5" y="2.6" width="4" height="7" fill="#4ee04e" stroke="#0a7a0a" stroke-width="0.9"/>
<g stroke="#4a4a4a" stroke-width="1" fill="none" shape-rendering="crispEdges"><line x1="312.5" y1="3" x2="312.5" y2="16"/><line x1="310" y1="13.5" x2="322" y2="13.5"/></g>
<polygon points="312.5,1.6 310.9,4.4 314.1,4.4" fill="#4a4a4a"/><polygon points="324,13.5 321.2,11.9 321.2,15.1" fill="#4a4a4a"/>
<path d="M311.3,10.9 C313.4,7.6 315.4,5 317.4,5.2 C319.4,5.6 321,8 322.9,9.3" fill="none" stroke="#1e8e1e" stroke-width="1.2"/>
<rect x="333" y="0" width="1" height="18" fill="#a0a0a0" shape-rendering="crispEdges"/>
<line x1="351.0" y1="9.5" x2="357.0" y2="14.8" stroke="#c9a227" stroke-width="2.6" stroke-linecap="round"/>
<circle cx="347.5" cy="6" r="5" fill="#d8ecff" stroke="#3e86d6" stroke-width="1.4"/>
<line x1="344.7" y1="6" x2="350.3" y2="6" stroke="#2f6fc2" stroke-width="1.5"/>
<line x1="347.5" y1="3.2" x2="347.5" y2="8.8" stroke="#2f6fc2" stroke-width="1.5"/>
<line x1="379.1" y1="9.5" x2="385.1" y2="14.8" stroke="#c9a227" stroke-width="2.6" stroke-linecap="round"/>
<circle cx="375.6" cy="6" r="5" fill="#d8ecff" stroke="#3e86d6" stroke-width="1.4"/>
<line x1="372.8" y1="6" x2="378.40000000000003" y2="6" stroke="#2f6fc2" stroke-width="1.5"/>
<rect x="398.3" y="-0.3" width="7.8" height="8.1" fill="#3ea62e"/><rect x="399.40000000000003" y="2.7" width="5.6" height="3.8" fill="#f2f6ff"/><rect x="400.3" y="3.9000000000000004" width="3.8" height="1" fill="#3ea62e" opacity="0.55"/><rect x="398.3" y="7.1000000000000005" width="7.8" height="0.7" fill="#2c8a1e"/>
<rect x="406.1" y="-0.3" width="7.8" height="8.1" fill="#2f62dc"/><rect x="407.20000000000005" y="2.7" width="5.6" height="3.8" fill="#f2f6ff"/><rect x="408.1" y="3.9000000000000004" width="3.8" height="1" fill="#2f62dc" opacity="0.55"/><rect x="406.1" y="7.1000000000000005" width="7.8" height="0.7" fill="#1c46b4"/>
<rect x="398.3" y="7.8" width="7.8" height="8.1" fill="#2f62dc"/><rect x="399.40000000000003" y="10.8" width="5.6" height="3.8" fill="#f2f6ff"/><rect x="400.3" y="12.0" width="3.8" height="1" fill="#2f62dc" opacity="0.55"/><rect x="398.3" y="15.2" width="7.8" height="0.7" fill="#1c46b4"/>
<rect x="406.1" y="7.8" width="7.8" height="8.1" fill="#3ea62e"/><rect x="407.20000000000005" y="10.8" width="5.6" height="3.8" fill="#f2f6ff"/><rect x="408.1" y="12.0" width="3.8" height="1" fill="#3ea62e" opacity="0.55"/><rect x="406.1" y="15.2" width="7.8" height="0.7" fill="#2c8a1e"/>
<rect x="423" y="0" width="1" height="18" fill="#a0a0a0" shape-rendering="crispEdges"/>
<rect x="428" y="0" width="25" height="18" fill="#f8f8f8" shape-rendering="crispEdges"/>
<rect x="428" y="0" width="1" height="18" fill="#b0b0b0" shape-rendering="crispEdges"/>
<g stroke="#4a4a4a" stroke-width="1" fill="none" shape-rendering="crispEdges"><line x1="436.5" y1="3" x2="436.5" y2="16"/><line x1="434" y1="13.5" x2="446" y2="13.5"/></g>
<polygon points="436.5,1.6 434.9,4.4 438.1,4.4" fill="#4a4a4a"/><polygon points="448,13.5 445.2,11.9 445.2,15.1" fill="#4a4a4a"/>
<polygon points="441.2,4.2 441.2,11 445.6,7.6" fill="#46d870" stroke="#1a9a2a" stroke-width="1"/>
<rect x="456" y="0" width="1" height="18" fill="#a0a0a0" shape-rendering="crispEdges"/>
<rect x="457" y="0" width="24" height="18" fill="#f8f8f8" shape-rendering="crispEdges"/>
<g stroke="#4a4a4a" stroke-width="1" fill="none" shape-rendering="crispEdges"><line x1="464.5" y1="3" x2="464.5" y2="16"/><line x1="462" y1="13.5" x2="474" y2="13.5"/></g>
<polygon points="464.5,1.6 462.9,4.4 466.1,4.4" fill="#4a4a4a"/><polygon points="476,13.5 473.2,11.9 473.2,15.1" fill="#4a4a4a"/>
<line x1="470.5" y1="2" x2="470.5" y2="12" stroke="#1a4ea8" stroke-width="1.3"/><path d="M476.2,7.4 H472.4" fill="none" stroke="#c8421c" stroke-width="1.1"/><polygon points="471.4,7.4 474.4,5 473.6,7.4 474.4,9.8" fill="#d8421c"/>
<rect x="485" y="0" width="1" height="18" fill="#a0a0a0" shape-rendering="crispEdges"/>
<path d="M495.5,0 H503.4 L506.6,3.2 V13.5 H495.5 Z" fill="#fff" stroke="#7c7c7c" stroke-width="1"/><path d="M503.4,0 V3.2 H506.6" fill="none" stroke="#7c7c7c"/>
<path d="M501,3 C499.2,2.6 498.8,4 498.8,5.6 V10.6 M497.2,6.2 H500.6" fill="none" stroke="#5a4a3a" stroke-width="1"/>
<path d="M503,6.6 H506.6 V10.4 H510.6 V14 H506.6 V17.9 H503 V14 H499.2 V10.4 H503 Z" fill="#22c822" stroke="#0a8a0a" stroke-width="0.9"/>
<path d="M503.8,7.6 H505.2 V11.4 H509.4 V12.2 H503.8 Z" fill="#8af58a" opacity="0.7"/>
<polygon points="517,7 522.4,7 519.7,10" fill="#000"/>
<rect x="539.6" y="-0.6" width="2.8" height="1.6" fill="#1c5fc8"/>
<circle cx="540.9" cy="7.8" r="6.7" fill="#f6f9ff" stroke="#1a66d6" stroke-width="2.3"/>
<path d="M535.2,11.6 A6.7,6.7 0 0 0 546.6,11.6" fill="none" stroke="#0f4cae" stroke-width="2.3"/>
<g stroke="#9ab" stroke-width="0.7"><line x1="540.9" y1="3" x2="540.9" y2="4"/><line x1="540.9" y1="11.6" x2="540.9" y2="12.6"/><line x1="536.1" y1="7.8" x2="537.1" y2="7.8"/><line x1="544.7" y1="7.8" x2="545.7" y2="7.8"/></g>
<path d="M540.4,4 V8 L543.4,8.4" fill="none" stroke="#222" stroke-width="1.2"/>
<polygon points="556,7 561.4,7 558.7,10" fill="#000"/>
<rect x="572.8" y="1.6" width="15" height="13" fill="#fbfdff" stroke="#3b78d4" stroke-width="1.2"/><rect x="573.4" y="2.2" width="13.8" height="1.6" fill="#b4d2f6"/>
<line x1="572.8" y1="9.4" x2="587.8" y2="9.4" stroke="#3b78d4" stroke-width="1"/>
<path d="M574.8,7.4 L577,6.9 L579,5.8 L581,6.3 L583,5.3 L585.8,5.6" fill="none" stroke="#a8321c" stroke-width="1.2"/><path d="M574.8,12.8 L577,12.2 L579,12.7 L581,11 L583,10.7 L585.8,12.7" fill="none" stroke="#1a8a2a" stroke-width="1.1"/>
<polygon points="595,7 600.4,7 597.7,10" fill="#000"/>
<rect x="606" y="0" width="1" height="19" fill="#a0a0a0" shape-rendering="crispEdges"/>
<rect x="607" y="0" width="1" height="19" fill="#ffffff" shape-rendering="crispEdges"/>
<rect x="610" y="0" width="3" height="1" fill="#a8a8a8" shape-rendering="crispEdges"/>
<rect x="610" y="2" width="3" height="1" fill="#a8a8a8" shape-rendering="crispEdges"/>
<rect x="610" y="4" width="3" height="1" fill="#a8a8a8" shape-rendering="crispEdges"/>
<rect x="610" y="6" width="3" height="1" fill="#a8a8a8" shape-rendering="crispEdges"/>
<rect x="610" y="8" width="3" height="1" fill="#a8a8a8" shape-rendering="crispEdges"/>
<rect x="610" y="10" width="3" height="1" fill="#a8a8a8" shape-rendering="crispEdges"/>
<rect x="610" y="12" width="3" height="1" fill="#a8a8a8" shape-rendering="crispEdges"/>
<rect x="610" y="14" width="3" height="1" fill="#a8a8a8" shape-rendering="crispEdges"/>
<rect x="610" y="16" width="3" height="1" fill="#a8a8a8" shape-rendering="crispEdges"/>
<rect x="616" y="0" width="1" height="18" fill="#b0b0b0" shape-rendering="crispEdges"/>
<rect x="617" y="0" width="25" height="18" fill="#f8f8f8" shape-rendering="crispEdges"/>
<path d="M624.3,0.8 V12.2 L626.7,10 L628.9,14.9 L630.9,13.9 L628.8,9.3 L632.3,8.5 Z" fill="#464646"/>
<g stroke="#3a3a3a" stroke-width="1" shape-rendering="crispEdges"><line x1="656.5" y1="1" x2="656.5" y2="6.5"/><line x1="656.5" y1="10" x2="656.5" y2="16"/><line x1="649" y1="8.5" x2="655" y2="8.5"/><line x1="658" y1="8.5" x2="664" y2="8.5"/></g>
<rect x="673" y="0" width="1" height="18" fill="#a0a0a0" shape-rendering="crispEdges"/>
<g stroke="#3a3a3a" stroke-width="1" shape-rendering="crispEdges"><line x1="690.5" y1="2" x2="690.5" y2="15"/><line x1="713" y1="8.5" x2="725" y2="8.5"/></g>
<line x1="740.8" y1="15" x2="753.2" y2="2.6" stroke="#3a3a3a" stroke-width="1.1"/>
<g stroke="#3a3a3a" stroke-width="0.9" fill="none"><line x1="766.8" y1="10.2" x2="775.4" y2="2.2"/><line x1="768.6" y1="13" x2="778.6" y2="3.8"/><line x1="771.4" y1="15" x2="781" y2="6.2"/><line x1="768.6" y1="8.4" x2="769.6" y2="14.2"/><line x1="770.8" y1="6.4" x2="772" y2="13.6"/><line x1="773.2" y1="4.4" x2="774.4" y2="11.4"/><line x1="775.6" y1="2.6" x2="776.8" y2="9.2"/><line x1="778.6" y1="0" x2="778.6" y2="7.6"/></g>
<text x="777.7" y="16.7" style="font-size:7px;font-weight:bold;fill:#222;stroke:#222;stroke-width:.2px">E</text>
<g stroke="#555" stroke-width="1" stroke-dasharray="1 1" shape-rendering="crispEdges"><line x1="796" y1="1.5" x2="809" y2="1.5"/><line x1="796" y1="4.5" x2="809" y2="4.5"/><line x1="796" y1="8.5" x2="809" y2="8.5"/><line x1="796" y1="12.5" x2="805" y2="12.5"/></g>
<text x="805.8" y="16.7" style="font-size:7px;font-weight:bold;fill:#222;stroke:#222;stroke-width:.2px">F</text>
<text x="826.8" y="13" style="font-size:12.3px;fill:#3a3a3a;stroke:#3a3a3a;stroke-width:.2px">A</text>
<rect x="853.5" y="2.5" width="11" height="12" fill="none" stroke="#555" stroke-width="1" stroke-dasharray="1 1" shape-rendering="crispEdges"/><text x="855.2" y="12.6" style="font-size:11px;fill:#3a3a3a;stroke:#3a3a3a;stroke-width:.4px">T</text>
<path d="M880,6.3 L883.5,2 L887,6.3 Z M887.4,10.8 L894,10.8 L890.7,15 Z" fill="#3e3e3e"/><path d="M882.2,9.4 L884.6,11.8 L889.2,6.2" fill="none" stroke="#3e3e3e" stroke-width="1.4"/>
<polygon points="900.6,7 906.0,7 903.3000000000001,10" fill="#000"/>
<rect x="912" y="0" width="1" height="19" fill="#a0a0a0" shape-rendering="crispEdges"/>
<rect x="913" y="0" width="1" height="19" fill="#ffffff" shape-rendering="crispEdges"/>
<rect x="916" y="0" width="3" height="1" fill="#a8a8a8" shape-rendering="crispEdges"/>
<rect x="916" y="2" width="3" height="1" fill="#a8a8a8" shape-rendering="crispEdges"/>
<rect x="916" y="4" width="3" height="1" fill="#a8a8a8" shape-rendering="crispEdges"/>
<rect x="916" y="6" width="3" height="1" fill="#a8a8a8" shape-rendering="crispEdges"/>
<rect x="916" y="8" width="3" height="1" fill="#a8a8a8" shape-rendering="crispEdges"/>
<rect x="916" y="10" width="3" height="1" fill="#a8a8a8" shape-rendering="crispEdges"/>
<rect x="916" y="12" width="3" height="1" fill="#a8a8a8" shape-rendering="crispEdges"/>
<rect x="916" y="14" width="3" height="1" fill="#a8a8a8" shape-rendering="crispEdges"/>
<rect x="916" y="16" width="3" height="1" fill="#a8a8a8" shape-rendering="crispEdges"/>
<rect x="1063" y="0" width="24" height="18" fill="#f8f8f8" shape-rendering="crispEdges"/>
<rect x="1062" y="0" width="1" height="18" fill="#a0a0a0" shape-rendering="crispEdges"/>
<text class="tf" transform="translate(927.5 12) scale(0.8824 1)" textLength="14.73" lengthAdjust="spacingAndGlyphs">M1</text>
<text class="tf" transform="translate(955.6 12) scale(0.8824 1)" textLength="14.51" lengthAdjust="spacingAndGlyphs">M5</text>
<text class="tf" transform="translate(981.7 12) scale(0.8824 1)" textLength="19.61" lengthAdjust="spacingAndGlyphs">M15</text>
<text class="tf" transform="translate(1009.6 12) scale(0.8824 1)" textLength="20.17" lengthAdjust="spacingAndGlyphs">M30</text>
<text class="tf" transform="translate(1040.3 12) scale(0.8824 1)" textLength="13.71" lengthAdjust="spacingAndGlyphs">H1</text>
<text class="tf" transform="translate(1067.5 12) scale(0.8824 1)" textLength="14.51" lengthAdjust="spacingAndGlyphs">H4</text>
<text class="tf" transform="translate(1096.3 12) scale(0.8824 1)" textLength="13.49" lengthAdjust="spacingAndGlyphs">D1</text>
<text class="tf" transform="translate(1124.2 12) scale(0.8824 1)" textLength="15.64" lengthAdjust="spacingAndGlyphs">W1</text>
<text class="tf" transform="translate(1150.4 12) scale(0.8824 1)" textLength="17.11" lengthAdjust="spacingAndGlyphs">MN</text>
<rect x="1173" y="0" width="1" height="18" fill="#a0a0a0" shape-rendering="crispEdges"/>
<line x1="1641" y1="8" x2="1636" y2="12.6" stroke="#2258cc" stroke-width="2.2" stroke-linecap="round"/><circle cx="1643.8" cy="5.4" r="3.8" fill="#f4f6ff" stroke="#2258cc" stroke-width="1.4"/>
<path d="M1660.6,9 C1660.6,4.6 1671,4.6 1671,9.4 C1671,13 1667,13.8 1665.6,13.8 L1663.4,16.6 L1663.6,13.4 C1661.6,12.8 1660.6,11 1660.6,9 Z" fill="#e4e6ee" stroke="#a8a8a8" stroke-width="0.9"/>
<defs><linearGradient id="bg1" x1="0" y1="0" x2="0" y2="1"><stop offset="0" stop-color="#e8583c"/><stop offset="1" stop-color="#d4240f"/></linearGradient></defs><circle cx="1674.6" cy="5.6" r="8.2" fill="url(#bg1)"/>
<text x="1670.8" y="10.2" style="font-size:13px;fill:#fff;stroke:#fff;stroke-width:.3px">1</text>
</g>
</svg></body></html>
